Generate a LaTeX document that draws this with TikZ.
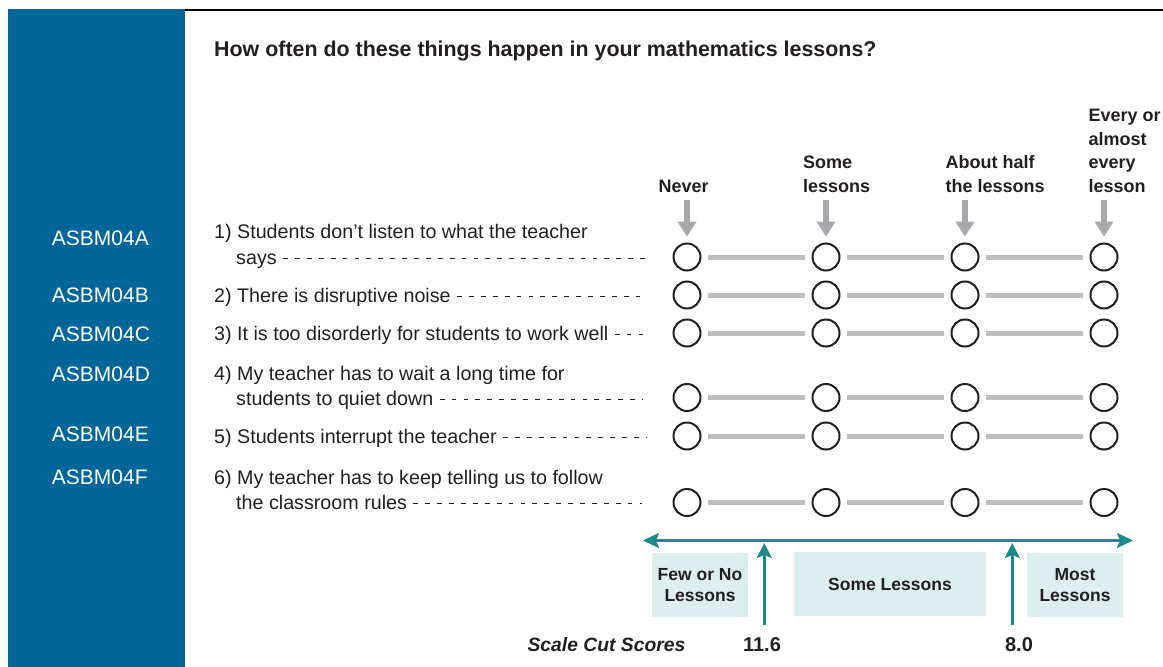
\documentclass[tikz,border=0pt]{standalone}
\usepackage{fontspec}
\setmainfont{Liberation Sans}
\usetikzlibrary{arrows.meta}
\definecolor{panelblue}{RGB}{0,101,153}
\definecolor{txt}{RGB}{35,31,32}
\definecolor{arrowgray}{RGB}{167,169,172}
\definecolor{linegray}{RGB}{188,190,192}
\definecolor{tealc}{RGB}{28,138,140}
\definecolor{boxfill}{RGB}{221,238,238}
\begin{document}
\begin{tikzpicture}[x=1pt,y=-1pt,
  qtext/.style={anchor=base west, inner sep=0pt, text=txt, font=\fontsize{19.7}{25.5}\selectfont},
  code/.style={anchor=base west, inner sep=0pt, text=white, font=\fontsize{21}{25}\selectfont},
  hdr/.style={anchor=base west, inner sep=0pt, text=txt, font=\bfseries\fontsize{18}{23.5}\selectfont},
  title/.style={anchor=base west, inner sep=0pt, text=txt, font=\bfseries\fontsize{21.4}{26}\selectfont},
  opt/.style={circle, draw=txt, line width=2pt, minimum size=27pt, inner sep=0pt, fill=white},
  bar/.style={linegray, line width=5pt, shorten <=6.5pt, shorten >=6.5pt},
  garrow/.style={arrowgray, line width=6pt, shorten >=5.8pt, -{Triangle[length=15pt,width=18pt]}},
  leader/.style={txt, line width=1.8pt, dash pattern=on 4.8pt off 7.1pt},
  tarrow/.style={tealc, line width=2.5pt},
  uparrow/.style={tealc, line width=2.5pt, -{Stealth[length=15pt,width=15pt,inset=3pt]}},
  lbox/.style={fill=boxfill, inner sep=0pt, align=center, text=txt, font=\bfseries\fontsize{17.5}{21.7}\selectfont},
  score/.style={inner sep=0pt, text=txt, font=\bfseries\fontsize{20}{24}\selectfont}
]
\useasboundingbox (0,0) rectangle (1163,667);
\fill[white] (0,0) rectangle (1163,667);
% side panel and top rule
\fill[panelblue] (8,9) rectangle (185,667);
\draw[line width=2pt, black] (185,10) -- (1163,10);

% title
\node[title] (title) at (214,56) {How often do these things happen in your mathematics lessons?};

% column headers
\node[hdr] (h1a) at (658.3,192) {Never};
\node[hdr] (h2a) at (803,168.5) {Some};
\node[hdr] (h2b) at (803,192) {lessons};
\node[hdr] (h3a) at (945.5,168.5) {About half};
\node[hdr] (h3b) at (945.5,192) {the lessons};
\node[hdr] (h4a) at (1088.5,121.5) {Every or};
\node[hdr] (h4b) at (1088.5,145) {almost};
\node[hdr] (h4c) at (1088.5,168.5) {every};
\node[hdr] (h4d) at (1088.5,192) {lesson};

% item codes
\node[code] (k1) at (51.7,245) {ASBM04A};
\node[code] (k2) at (51.7,302) {ASBM04B};
\node[code] (k3) at (51.7,341) {ASBM04C};
\node[code] (k4) at (51.7,381) {ASBM04D};
\node[code] (k5) at (51.7,441) {ASBM04E};
\node[code] (k6) at (51.7,484) {ASBM04F};

% questions
\node[qtext] (q1a) at (214,238.5) {1) Students don’t listen to what the teacher};
\node[qtext] (q1b) at (236,264) {says};
\node[qtext] (q2)  at (214,302) {2) There is disruptive noise};
\node[qtext] (q3)  at (214,340) {3) It is too disorderly for students to work well};
\node[qtext] (q4a) at (214,380) {4) My teacher has to wait a long time for};
\node[qtext] (q4b) at (236,405) {students to quiet down};
\node[qtext] (q5)  at (214,443) {5) Students interrupt the teacher};
\node[qtext] (q6a) at (214,484) {6) My teacher has to keep telling us to follow};
\node[qtext] (q6b) at (236,509) {the classroom rules};

% leader dashes
\coordinate (le1) at (646,258.5);
\coordinate (le2) at (646,296.5);
\coordinate (le3) at (646,334.5);
\coordinate (le4) at (643,399.5);
\coordinate (le5) at (647,437.5);
\coordinate (le6) at (642,503.5);
\draw[leader] ([xshift=6.2pt]q1b.base east |- le1) -- (le1);
\draw[leader] ([xshift=6.2pt]q2.base east |- le2) -- (le2);
\draw[leader] ([xshift=6.2pt]q3.base east |- le3) -- (le3);
\draw[leader] ([xshift=6.2pt]q4b.base east |- le4) -- (le4);
\draw[leader] ([xshift=6.2pt]q5.base east |- le5) -- (le5);
\draw[leader] ([xshift=6.2pt]q6b.base east |- le6) -- (le6);

% response circles and bars
\foreach \r/\y in {1/257,2/295,3/333,4/397.5,5/436,6/502.5} {
  \foreach \k/\x in {1/687,2/826,3/965,4/1104} {
    \node[opt] (c\r\k) at (\x,\y) {};
  }
  \draw[bar] (c\r1) -- (c\r2);
  \draw[bar] (c\r2) -- (c\r3);
  \draw[bar] (c\r3) -- (c\r4);
}

% gray header arrows
\coordinate (g1) at (687,200);
\coordinate (g2) at (826,200);
\coordinate (g3) at (965,200);
\coordinate (g4) at (1104,200);
\draw[garrow] (g1) -- (c11);
\draw[garrow] (g2) -- (c12);
\draw[garrow] (g3) -- (c13);
\draw[garrow] (g4) -- (c14);

% scale arrow
\coordinate (tl) at (643,540.5);
\coordinate (tr) at (1133,540.5);
\draw[tarrow, {Stealth[length=16pt,width=15pt,inset=3pt]}-{Stealth[length=16pt,width=15pt,inset=3pt]}] (tl) -- (tr);

% category boxes
\node[lbox, minimum width=96pt, minimum height=64pt] (b1) at (700,585) {Few or No\\Lessons};
\node[lbox, minimum width=192pt, minimum height=64pt] (b2) at (890,584) {Some Lessons};
\node[lbox, minimum width=96pt, minimum height=64pt] (b3) at (1075,585) {Most\\Lessons};

% cut score arrows
\coordinate (u1b) at (764.3,625);
\coordinate (u1t) at (764.3,543);
\coordinate (u2b) at (1012.3,625);
\coordinate (u2t) at (1012.3,543);
\draw[uparrow] (u1b) -- (u1t);
\draw[uparrow] (u2b) -- (u2t);

% cut scores
\node[score, anchor=base east, font=\bfseries\itshape\fontsize{19.3}{24}\selectfont] (scs) at (685.5,651.5) {Scale Cut Scores};
\node[score, anchor=base] (s1) at (762,651.5) {11.6};
\node[score, anchor=base] (s2) at (1019,651.5) {8.0};
\end{tikzpicture}
\end{document}
